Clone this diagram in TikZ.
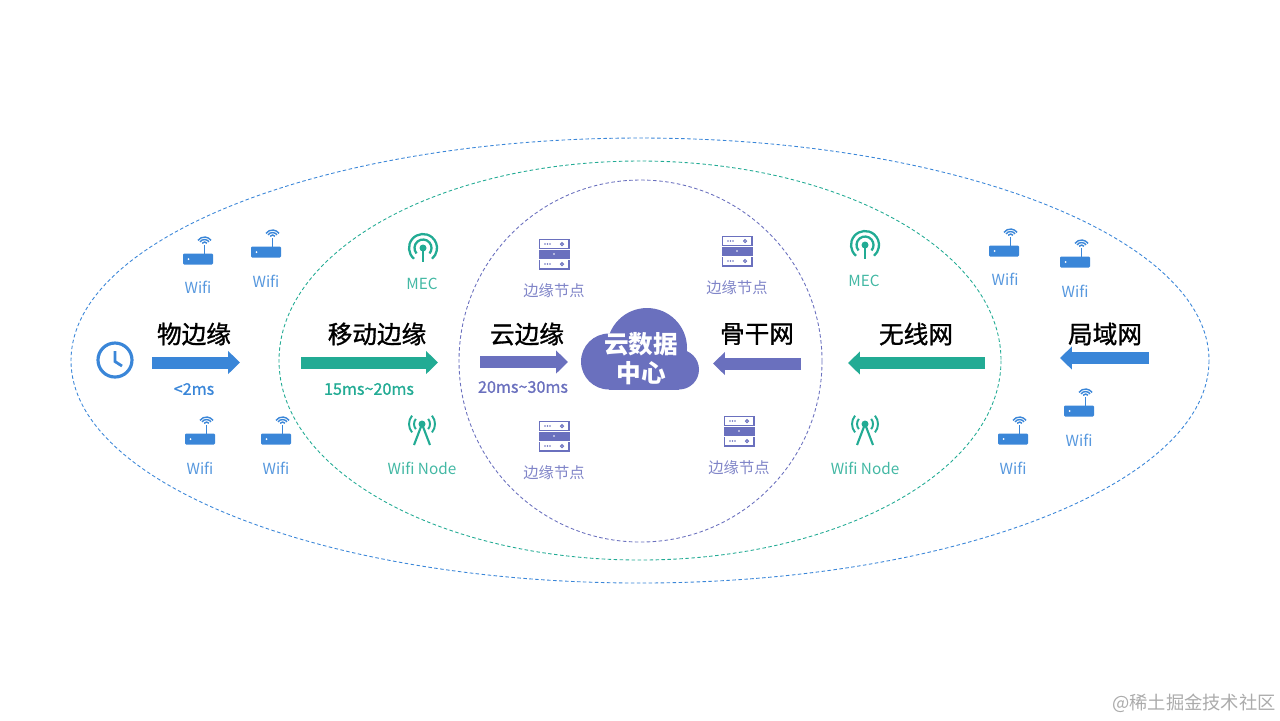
\documentclass[tikz,border=0pt]{standalone}
\usepackage{fontspec}
\setmainfont{Noto Sans CJK SC}
\newfontfamily\headfont[FakeBold=1.2]{Noto Sans CJK SC}
\newfontfamily\delayfont[FakeBold=1]{Noto Sans CJK SC}
\usetikzlibrary{arrows.meta}

\definecolor{edgeblue}{HTML}{3A86D8}
\definecolor{edgegreen}{HTML}{22AB94}
\definecolor{edgepurple}{HTML}{6A70BE}

\newcommand{\fsize}[1]{\fontsize{#1pt}{#1pt}\selectfont}

\tikzset{
  zone/.style={dash pattern=on 1pt off 0.7pt, line width=0.25pt},
  flow/.style={line width=3.4pt, -{Triangle[length=3.4pt, width=6.4pt]}},
  title/.style={font=\fsize{7}\headfont, text=black},
  delay/.style={font=\fsize{4.6}\delayfont},
  tag/.style={font=\fsize{4.35}},
  pics/wifiicon/.style={code={
    \fill[#1, rounded corners=0.3pt] (-15,-5.5) rectangle (15,5.5);
    \fill[white] (-9.5,0) circle (1);
    \draw[#1, line width=0.4pt] (6.5,-5) -- (6.5,-14);
    \foreach \r in {3,5.5,8}
      \draw[#1, line width=0.4pt] (6.5,-14) ++(-145:\r) arc[start angle=-145, end angle=-35, radius=\r];
  }},
  pics/servericon/.style={code={
    \fill[#1] (-15.5,-15.5) rectangle (15.5,15.5);
    \fill[white] (-14,-14) rectangle (14,-6);
    \fill[white] (-15.5,-5.5) rectangle (15.5,-4.5);
    \fill[white] (-14,6) rectangle (14,14);
    \fill[white] (-15.5,4.5) rectangle (15.5,5.5);
    \fill[white] (0,0) circle (0.9);
    \foreach \y in {-10,10} {
      \foreach \x in {-9,-6.5,-4}
        \fill[#1] (\x,\y) circle (0.8);
      \draw[#1, line width=0.3pt] (8,\y) circle (1.5);
    }
  }},
  pics/mecicon/.style={code={
    \fill[#1] (0,0) circle (3.5);
    \draw[#1, line width=0.65pt] (0,0) -- (0,14);
    \draw[#1, line width=0.65pt] (0,0) ++(130:14) arc[start angle=130, end angle=410, radius=14];
    \draw[#1, line width=0.65pt] (0,0) ++(140:8.5) arc[start angle=140, end angle=400, radius=8.5];
  }},
  pics/nodeicon/.style={code={
    \fill[#1] (0,-7) circle (3.5);
    \draw[#1, line width=0.6pt] (-8,14) -- (0,-7) -- (8,14);
    \foreach \r in {8,13} {
      \draw[#1, line width=0.55pt] (0,-7) ++(-40:\r) arc[start angle=-40, end angle=40, radius=\r];
      \draw[#1, line width=0.55pt] (0,-7) ++(140:\r) arc[start angle=140, end angle=220, radius=\r];
    }
  }},
}

\begin{document}
\begin{tikzpicture}[x=0.01cm, y=-0.01cm]
  \useasboundingbox (0,0) rectangle (1280,720);

  % zones
  \draw[zone, edgeblue] (640,360.5) circle[x radius=569, y radius=222.5];
  \draw[zone, edgegreen] (640,360.5) circle[x radius=361, y radius=199.5];
  \draw[zone, edgepurple] (640.5,361) circle[x radius=181.5, y radius=181];

  % cloud
  \fill[edgepurple] (647,348) circle (40);
  \fill[edgepurple] (609,361.5) circle (28);
  \fill[edgepurple] (679,369.5) circle (20);
  \fill[edgepurple] (609,355) rectangle (679,389.5);
  \node[font=\fsize{7}\bfseries, text=white, align=center, inner sep=0pt] (cloud) at (641,358.5)
    {云数据\\[1.4pt]中心};

  % clock
  \draw[edgeblue, line width=0.9pt] (115,360) circle (17);
  \draw[edgeblue, line width=0.8pt] (115,351) -- (115,361.5) -- (122,366);

  % flow arrows
  \coordinate (phyL) at (152,362.5);
  \coordinate (phyR) at (240,362.5);
  \coordinate (mobL) at (301,362.5);
  \coordinate (mobR) at (438,362.5);
  \coordinate (cloL) at (480,362);
  \coordinate (cloR) at (568,362);
  \coordinate (bonR) at (801,363.5);
  \coordinate (bonL) at (713,363.5);
  \coordinate (wirR) at (985,363);
  \coordinate (wirL) at (848,363);
  \coordinate (lanR) at (1149,358);
  \coordinate (lanL) at (1060,358);

  \draw[flow, edgeblue] (phyL) -- (phyR);
  \draw[flow, edgegreen] (mobL) -- (mobR);
  \draw[flow, edgepurple] (cloL) -- (cloR);
  \draw[flow, edgepurple] (bonR) -- (bonL);
  \draw[flow, edgegreen] (wirR) -- (wirL);
  \draw[flow, edgeblue] (lanR) -- (lanL);

  % titles
  \node[title] (phy) at (194,334) {物边缘};
  \node[title] (mob) at (377,334) {移动边缘};
  \node[title] (clo) at (527,334) {云边缘};
  \node[title] (bon) at (757,334) {骨干网};
  \node[title] (wir) at (916,334) {无线网};
  \node[title] (lan) at (1105,334) {局域网};

  \node[delay, text=edgeblue] (phyT) at (194,389) {<2ms};
  \node[delay, text=edgegreen] (mobT) at (369,389) {15ms\textasciitilde20ms};
  \node[delay, text=edgepurple] (cloT) at (523,387) {20ms\textasciitilde30ms};

  % wifi routers
  \foreach \x/\y/\lx/\ly/\name in {198/259/198/287/wifiA, 266/252/266/281/wifiB, 200/439/200/468/wifiC,
      276/439/276/468/wifiD, 1004/251/1005/279/wifiE, 1075/262/1075/291/wifiF,
      1079/411/1079/440/wifiG, 1013/439/1013/468/wifiH} {
    \pic at (\x,\y) {wifiicon=edgeblue};
    \node[tag, text=edgeblue!85] (\name) at (\lx,\ly) {Wifi};
  }

  % edge servers
  \foreach \x/\y/\ly/\name in {554/254/291/srvA, 737/251/288/srvB, 554/436/473/srvC, 739/431/468/srvD} {
    \pic at (\x,\y) {servericon=edgepurple};
    \node[tag, text=edgepurple!85] (\name) at (\x,\ly) {边缘节点};
  }

  % mec and wifi nodes
  \pic at (423,248) {mecicon=edgegreen};
  \pic at (865,245) {mecicon=edgegreen};
  \node[tag, text=edgegreen!85] (mecA) at (422,284) {MEC};
  \node[tag, text=edgegreen!85] (mecB) at (864,281) {MEC};
  \foreach \x/\name in {422/nodeA, 865/nodeB} {
    \pic at (\x,431) {nodeicon=edgegreen};
    \node[tag, text=edgegreen!85] (\name) at (\x,468) {Wifi Node};
  }

  \node[font=\fsize{5.2}, text=black!33] (mark) at (1194,703) {@稀土掘金技术社区};
\end{tikzpicture}
\end{document}
